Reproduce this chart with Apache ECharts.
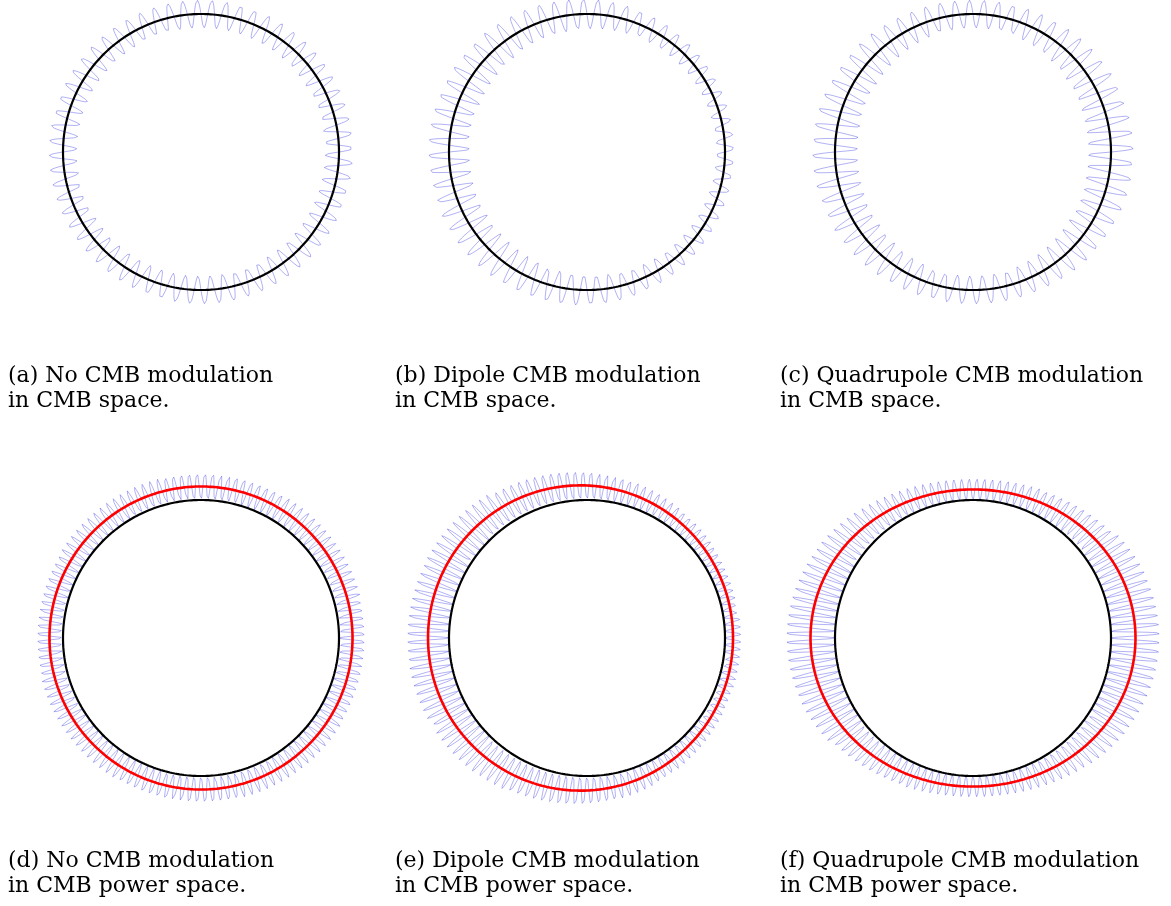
<!DOCTYPE html>
<html>
<head>
<meta charset="utf-8">
<script src="https://cdn.jsdelivr.net/npm/echarts@6/dist/echarts.min.js"></script>
<style>
  html, body { margin: 0; padding: 0; background: #ffffff; }
  #chart { width: 1171px; height: 906px; }
</style>
</head>
<body>
<div id="chart"></div>
<script>
// ---- Panel content ----------------------------------------------------
const panelLetters = ['a', 'b', 'c', 'd', 'e', 'f'];
const captionFirstLine = [
  '(a) No CMB modulation',
  '(b) Dipole CMB modulation',
  '(c) Quadrupole CMB modulation',
  '(d) No CMB modulation',
  '(e) Dipole CMB modulation',
  '(f) Quadrupole CMB modulation'
];
const captionSecondLine = [
  'in CMB space.',
  'in CMB space.',
  'in CMB space.',
  'in CMB power space.',
  'in CMB power space.',
  'in CMB power space.'
];

// Which space each panel is drawn in: amplitude (cmb) or power (squared).
const panelSpace = ['cmb', 'cmb', 'cmb', 'power', 'power', 'power'];
// Harmonic of the fluctuation pattern around the ring.
const ringHarmonic = [64, 64, 64, 64, 64, 64];
// Fluctuation envelope, in units of the unit (black) ring:
// envelope(theta) = mean + dipole*cos(theta) + quadrupole*cos(2 theta)
const envelopeMean       = [0.100, 0.108, 0.134, 0.196, 0.210, 0.254];
const envelopeDipole     = [0.000, -0.043, 0.000, 0.000, -0.094, 0.000];
const envelopeQuadrupole = [0.000, 0.000, 0.033, 0.000, 0.000, 0.101];
// Radius of the reference (unmodulated) ring.
const baseRadius = 1;

// ---- Layout -----------------------------------------------------------
const centerX = [201, 587, 973, 201, 587, 973];
const centerY = [152, 152, 152, 638, 638, 638];
const unitPx = 138;          // pixels per unit radius
const radiusMax = 1.5;       // radial axis extent
const captionX = [8, 395, 780, 8, 395, 780];
const captionY = [376, 376, 376, 861, 861, 861];
const captionLeading = 25.5;

function envelope(i, th) {
  return envelopeMean[i] + envelopeDipole[i] * Math.cos(th) + envelopeQuadrupole[i] * Math.cos(2 * th);
}

const polar = [], angleAxis = [], radiusAxis = [], series = [], graphic = [];

panelLetters.forEach(function (letter, i) {
  polar.push({ center: [centerX[i], centerY[i]], radius: [0, unitPx * radiusMax] });
  angleAxis.push({
    polarIndex: i, type: 'value', min: 0, max: 360, startAngle: 0, clockwise: false,
    show: false, axisLine: { show: false }, splitLine: { show: false },
    axisTick: { show: false }, axisLabel: { show: false }
  });
  radiusAxis.push({
    polarIndex: i, type: 'value', min: 0, max: radiusMax,
    show: false, axisLine: { show: false }, splitLine: { show: false },
    axisTick: { show: false }, axisLabel: { show: false }
  });

  // Fluctuating field around the ring
  const steps = ringHarmonic[i] * 48;
  const field = [];
  for (let k = 0; k <= steps; k++) {
    const deg = k * 360 / steps;
    const th = deg * Math.PI / 180;
    const w = Math.sin(ringHarmonic[i] * th);
    const env = envelope(i, th);
    const r = panelSpace[i] === 'power' ? baseRadius + env * w * w : baseRadius + env * w;
    field.push([r, deg]);
  }
  series.push({
    name: letter + '-field', type: 'line', coordinateSystem: 'polar', polarIndex: i,
    data: field, showSymbol: false, symbol: 'none', smooth: false, silent: true,
    animation: false, z: 1,
    lineStyle: { color: 'rgba(40,40,225,0.36)', width: 1 }
  });

  // Mean power ring
  if (panelSpace[i] === 'power') {
    const mean = [];
    for (let d = 0; d <= 360; d += 1) {
      const th = d * Math.PI / 180;
      mean.push([baseRadius + envelope(i, th) / 2, d]);
    }
    series.push({
      name: letter + '-mean', type: 'line', coordinateSystem: 'polar', polarIndex: i,
      data: mean, showSymbol: false, symbol: 'none', silent: true, animation: false, z: 2,
      lineStyle: { color: '#ff0000', width: 2.6 }
    });
  }

  // Reference ring
  const ring = [];
  for (let d = 0; d <= 360; d += 1) ring.push([baseRadius, d]);
  series.push({
    name: letter + '-ring', type: 'line', coordinateSystem: 'polar', polarIndex: i,
    data: ring, showSymbol: false, symbol: 'none', silent: true, animation: false, z: 3,
    lineStyle: { color: '#000000', width: 2.2 }
  });

  // Caption
  [captionFirstLine[i], captionSecondLine[i]].forEach(function (txt, j) {
    graphic.push({
      type: 'text', silent: true,
      x: captionX[i], y: captionY[i] + j * captionLeading,
      style: {
        text: txt, fill: '#000000',
        font: '22px "DejaVu Serif", serif',
        align: 'left', verticalAlign: 'middle'
      }
    });
  });
});

const chart = echarts.init(document.getElementById('chart'), null, { renderer: 'canvas' });
chart.setOption({
  backgroundColor: '#ffffff',
  animation: false,
  polar: polar,
  angleAxis: angleAxis,
  radiusAxis: radiusAxis,
  series: series,
  graphic: graphic
});
</script>
</body>
</html>
